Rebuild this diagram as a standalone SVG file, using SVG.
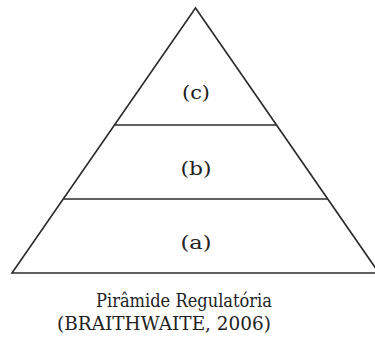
<svg xmlns="http://www.w3.org/2000/svg" width="375" height="339" viewBox="0 0 375 339">
<style>
.ln{stroke:#2b2b2b;stroke-width:1.6;fill:none;stroke-linejoin:miter}
.lb{font-family:"DejaVu Serif","Liberation Serif",serif;font-size:18px;fill:#222;text-anchor:middle}
.cap{font-family:"DejaVu Serif","Liberation Serif",serif;font-size:18px;fill:#222}
</style>
<rect width="375" height="339" fill="#fff"/>
<g id="pyramid">
<polygon class="ln" points="195.5,8 12,273 379,273"/>
</g>
<g id="connectors">
<line class="ln" x1="114.5" y1="125" x2="276.5" y2="125"/>
<line class="ln" x1="63.5" y1="199" x2="327.5" y2="199"/>
</g>
<g id="level-c"><text class="lb" x="196" y="99" textLength="28" lengthAdjust="spacingAndGlyphs">(c)</text></g>
<g id="level-b"><text class="lb" x="196" y="175" textLength="31" lengthAdjust="spacingAndGlyphs">(b)</text></g>
<g id="level-a"><text class="lb" x="196" y="249" textLength="31" lengthAdjust="spacingAndGlyphs">(a)</text></g>
<g id="caption">
<text class="cap" x="96" y="307" textLength="176" lengthAdjust="spacingAndGlyphs">Pirâmide Regulatória</text>
<text class="cap" x="57" y="330" textLength="214" lengthAdjust="spacingAndGlyphs">(BRAITHWAITE, 2006)</text>
</g>
</svg>
